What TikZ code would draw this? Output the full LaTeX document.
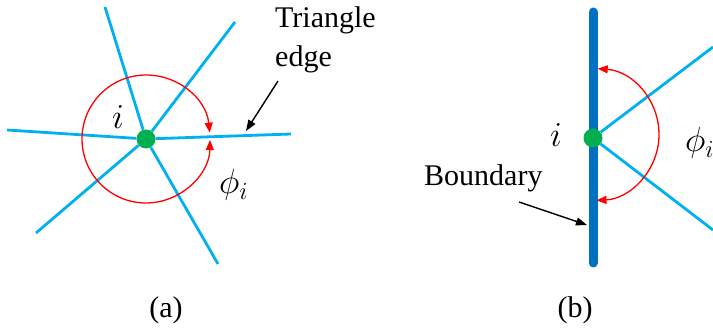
\RequirePackage{fix-cm}
\documentclass[tikz,border=0pt]{standalone}
\usepackage{fontspec}
\setmainfont{Liberation Serif}
\usetikzlibrary{arrows.meta}

\definecolor{edgeblue}{HTML}{00B0F0}
\definecolor{bndblue}{HTML}{0070C0}
\definecolor{vgreen}{HTML}{00B050}

\begin{document}
\begin{tikzpicture}[x=1pt, y=-1pt, every node/.style={font=\fontsize{30}{39}\selectfont, inner sep=0pt}, sym/.style={font=\fontsize{35}{40}\selectfont}, triedge/.style={draw=edgeblue, line width=2.8pt}, vdot/.style={circle, fill=vgreen, minimum size=19pt}, angarc/.style={draw=red, line width=1.3pt, {Triangle[length=10pt,width=8pt]}-{Triangle[length=10pt,width=8pt]}}, pointer/.style={draw=black, line width=1.4pt, -{Triangle[length=11pt,width=8pt]}}]
	\useasboundingbox (0,0) rectangle (713,331);
	\clip (0,0) rectangle (713,331);
	% (a) interior vertex
	\node[vdot] (va) at (146,139) {};
	\coordinate (a1) at (105,7);
	\coordinate (a2) at (235,22);
	\coordinate (a3) at (7,130);
	\coordinate (a4) at (291,134);
	\coordinate (a5) at (36,233);
	\coordinate (a6) at (218,264);
	\draw[triedge] (va) -- (a1);
	\draw[triedge] (va) -- (a2);
	\draw[triedge] (va) -- (a3);
	\draw[triedge] (va) -- (a4);
	\draw[triedge] (va) -- (a5);
	\draw[triedge] (va) -- (a6);
	\draw[angarc] ([shift={(-5.7:64)}]va.center) arc[start angle=-5.7, end angle=-359.1, radius=64];
	\node[sym, anchor=base] (ia) at (118,129) {$i$};
	\node[sym, anchor=base west] (phia) at (219,194) {$\phi_i$};
	\node[anchor=north west, align=left] (tlbl) at (275,6) {Triangle\\edge};
	\coordinate (tailA) at (278,81);
	\coordinate (tipA) at (246,131);
	\draw[pointer] (tailA) -- (tipA);
	\node (capa) at (166,310) {(a)};
	% (b) boundary vertex
	\coordinate (bt) at (593,12);
	\coordinate (bb) at (593,263);
	\draw[draw=bndblue, line width=9pt, line cap=round] (bt) -- (bb);
	\node[vdot] (vb) at (593,138) {};
	\coordinate (b1) at (713,47);
	\coordinate (b2) at (713,230);
	\draw[triedge] (vb) -- (b1);
	\draw[triedge] (vb) -- (b2);
	\coordinate (ob) at (593,134.5);
	\draw[angarc] ([shift={(-85.9:66)}]ob) arc[start angle=-85.9, end angle=87, radius=66];
	\node[sym, anchor=base] (ib) at (556,147) {$i$};
	\node[sym, anchor=base west] (phib) at (685,152) {$\phi_i$};
	\node[anchor=base west] (blbl) at (424,186) {Boundary};
	\coordinate (tailB) at (519,202);
	\coordinate (tipB) at (587,225);
	\draw[pointer] (tailB) -- (tipB);
	\node (capb) at (575,310) {(b)};
\end{tikzpicture}
\end{document}
